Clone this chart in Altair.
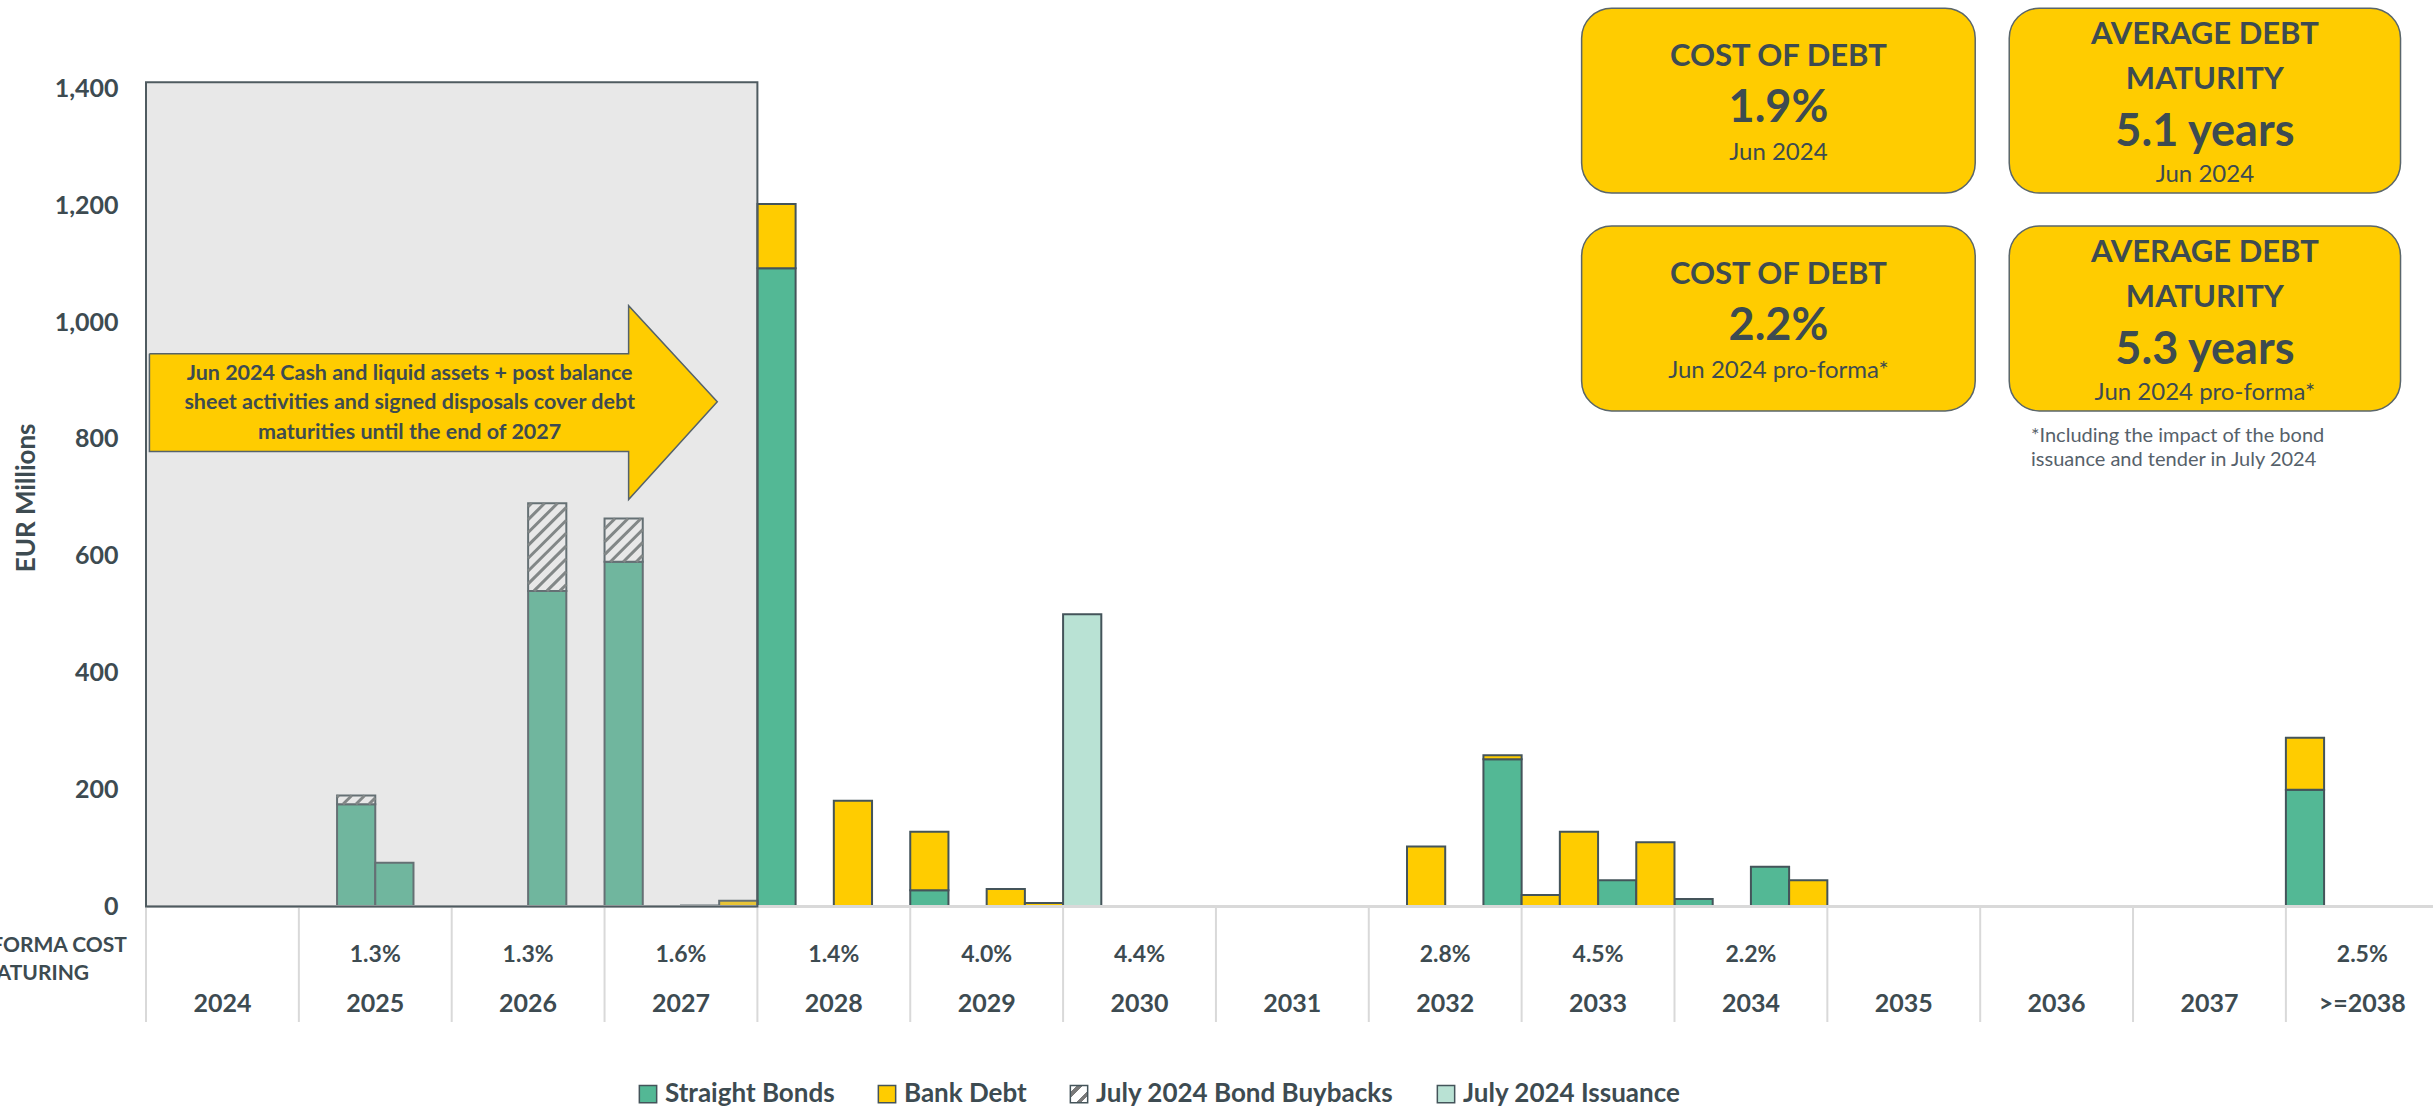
import altair as alt
import pandas as pd

# ---------------- data ----------------
YEARS = ["2024", "2025", "2026", "2027", "2028", "2029", "2030", "2031",
         "2032", "2033", "2034", "2035", "2036", "2037", ">=2038"]
COST = ["", "1.3%", "1.3%", "1.6%", "1.4%", "4.0%", "4.4%", "",
        "2.8%", "4.5%", "2.2%", "", "", "", "2.5%"]

# maturities per quarter slot (slot index = 4 * (year - 2024) + quarter)
BOND_Q = [5, 6, 10, 12, 14, 16, 17, 20, 35, 38, 40, 42, 56]
BOND_V = [175, 75, 540, 590, 2, 1092, 1, 28, 252, 45, 13, 68, 200]
BANK_Q = [15, 16, 18, 20, 22, 23, 33, 35, 36, 37, 39, 43, 56]
BANK_V = [10, 110, 181, 100, 30, 6, 103, 7, 20, 128, 110, 45, 89]
BUYBACK_Q = [5, 10, 12]
BUYBACK_V = [15, 150, 74]
ISSUE_Q = [24]
ISSUE_V = [500]

SERIES = ["Straight Bonds", "Bank Debt", "July 2024 Bond Buybacks", "July 2024 Issuance"]

COVER_TEXT = ["Jun 2024 Cash and liquid assets + post balance",
              "sheet activities and signed disposals cover debt",
              "maturities until the end of 2027"]
COVER_UNTIL = "2027"

KPI_TITLE = [["COST OF DEBT"], ["AVERAGE DEBT", "MATURITY"],
             ["COST OF DEBT"], ["AVERAGE DEBT", "MATURITY"]]
KPI_VALUE = ["1.9%", "5.1 years", "2.2%", "5.3 years"]
KPI_DATE = ["Jun 2024", "Jun 2024", "Jun 2024 pro-forma*", "Jun 2024 pro-forma*"]
FOOTNOTE = ["*Including the impact of the bond", "issuance and tender in July 2024"]
ROW_LABEL = ["PRO-FORMA COST", "OF DEBT MATURING"]
Y_TITLE = "EUR Millions"

# ---------------- style / layout ----------------
FONT = "Lato"
TXT = "#3d4b51"
HATCH_COLOR = "#6e7575"
STRIPES = ("{gradient: 'linear', x1: 0, y1: 0, x2: 1, y2: 1, stops: ["
           "{offset: 0, color: '#ffffff'}, {offset: 0.2, color: '#ffffff'}, "
           "{offset: 0.2, color: '#7a7a7a'}, {offset: 0.36, color: '#7a7a7a'}, "
           "{offset: 0.36, color: '#ffffff'}, {offset: 0.64, color: '#ffffff'}, "
           "{offset: 0.64, color: '#7a7a7a'}, {offset: 0.8, color: '#7a7a7a'}, "
           "{offset: 0.8, color: '#ffffff'}, {offset: 1, color: '#ffffff'}]}")
COLORS = ["#53b895", "#ffcc00", "#ffffff", "#b9e2d4"]
BAR_STROKE = "#44545a"
GRID_GRAY = "#d9d9d9"
YELLOW = "#ffcc00"

W, H = 2287, 818.4
XMAX = 59.85
YMAX = 1400
XS = alt.Scale(domain=[0, XMAX], nice=False, zero=False)
YS = alt.Scale(domain=[0, YMAX], nice=False, zero=False)

# annotation layout (in axis units: quarters / EUR millions)
SHADE_TOP = 1410
ARROW_X = [0.09, 12.63, 12.63, 14.95, 12.63, 12.63, 0.09, 0.09]
ARROW_Y = [945.8, 945.8, 1028, 863.5, 696.4, 778.6, 778.6, 945.8]
COVER_TX = 6.9
COVER_TY = [911.1, 860.8, 810.2]
BOX_X = [(37.57, 47.87), (48.76, 59.0), (37.57, 47.87), (48.76, 59.0)]
BOX_Y = [(1220.7, 1536.7), (1220.7, 1536.7), (848.0, 1164.3), (848.0, 1164.3)]
BOX_TITLE_Y = [[1453.4], [1490.5, 1413.5], [1081.0], [1118.1, 1041.1]]
BOX_VALUE_Y = [1366.2, 1324.6, 993.7, 952.2]
BOX_DATE_Y = [1289.2, 1251.0, 916.7, 878.7]
FOOT_X = 49.33
FOOT_Y = [805.1, 764.0]
ROW_X = [-0.5, -1.49]
ROW_Y = [-67.0, -115.0]
PCT_Y = -82.8
YEAR_Y = -166.6
SEP_BOTTOM = -197.4
HATCH_RISE = 65.0
HATCH_STEP = 22.0

Y_AXIS = alt.Axis(
    orient="left", values=list(range(0, 1401, 200)), format=",d", grid=False,
    domain=False, ticks=False, labelFont=FONT, labelFontSize=25,
    labelFontWeight="bold", labelColor=TXT, labelPadding=28, title=Y_TITLE,
    titleFont=FONT, titleFontSize=26, titleFontWeight="bold", titleColor=TXT,
    titleAngle=270, titleX=-120, titleY=H / 2, titleAlign="center",
    titleBaseline="middle")


def X(field, **kw):
    return alt.X(field, type="quantitative", scale=XS, axis=None, **kw)


def Y(field, **kw):
    # every layer carries the same axis definition so the shared axis merges cleanly
    return alt.Y(field, type="quantitative", scale=YS, axis=Y_AXIS, title=Y_TITLE, **kw)


def YD(value):
    return alt.Y(datum=value, type="quantitative", scale=YS, axis=Y_AXIS, title=Y_TITLE)


# ---------------- tables ----------------
rows = []
for k, (qs, vs) in enumerate([(BOND_Q, BOND_V), (BANK_Q, BANK_V),
                              (BUYBACK_Q, BUYBACK_V), (ISSUE_Q, ISSUE_V)]):
    for q, v in zip(qs, vs):
        rows.append({"q": q, "series": SERIES[k], "value": v, "ord": k})
bars_df = pd.DataFrame(rows)

bond_at = dict(zip(BOND_Q, BOND_V))
hatch = []
for q, v in zip(BUYBACK_Q, BUYBACK_V):
    b = bond_at.get(q, 0)
    t = b + v
    c = b - HATCH_RISE + HATCH_STEP * 0.5
    while c < t:
        xl = max(0.0, (b - c) / HATCH_RISE)
        xh = min(1.0, (t - c) / HATCH_RISE)
        if xh > xl:
            hatch.append({"x": q + xl, "y": c + HATCH_RISE * xl,
                          "x2": q + xh, "y2": c + HATCH_RISE * xh})
        c += HATCH_STEP
hatch_df = pd.DataFrame(hatch)

cols_df = pd.DataFrame({"year": YEARS, "cost": COST,
                        "xc": [4 * i + 2 for i in range(len(YEARS))]})
sep_df = pd.DataFrame({"x": [4 * i for i in range(len(YEARS))]})
sep_df["y"] = 0
sep_df["y2"] = SEP_BOTTOM
base_df = pd.DataFrame({"x": [0], "x2": [XMAX], "y": [0]})
shade_df = pd.DataFrame({"x": [0], "x2": [4 * (YEARS.index(COVER_UNTIL) + 1)],
                         "y": [0], "y2": [SHADE_TOP]})
arrow_df = pd.DataFrame({"x": ARROW_X, "y": ARROW_Y, "o": list(range(len(ARROW_X)))})
cover_df = pd.DataFrame({"t": COVER_TEXT, "x": COVER_TX, "y": COVER_TY})
box_df = pd.DataFrame({"x": [b[0] for b in BOX_X], "x2": [b[1] for b in BOX_X],
                       "y": [b[0] for b in BOX_Y], "y2": [b[1] for b in BOX_Y]})
ktitle = []
for i, lines in enumerate(KPI_TITLE):
    for line, yy in zip(lines, BOX_TITLE_Y[i]):
        ktitle.append({"t": line, "x": (BOX_X[i][0] + BOX_X[i][1]) / 2, "y": yy})
ktitle_df = pd.DataFrame(ktitle)
kval_df = pd.DataFrame({"t": KPI_VALUE, "x": [(b[0] + b[1]) / 2 for b in BOX_X], "y": BOX_VALUE_Y})
kdate_df = pd.DataFrame({"t": KPI_DATE, "x": [(b[0] + b[1]) / 2 for b in BOX_X], "y": BOX_DATE_Y})
foot_df = pd.DataFrame({"t": FOOTNOTE, "x": FOOT_X, "y": FOOT_Y})
row_df = pd.DataFrame({"t": ROW_LABEL, "x": ROW_X, "y": ROW_Y})


# ---------------- layers ----------------
def build(striped_legend):
    legend = alt.Legend(
        title=None, orient="none", legendX=489, legendY=993,
        direction="horizontal", symbolType="square", symbolSize=300,
        symbolStrokeColor=BAR_STROKE, symbolStrokeWidth=1.5,
        labelFont=FONT, labelFontSize=26, labelFontWeight="bold",
        labelColor=TXT, labelOffset=4, columnPadding=39,
        labelLimit=0, padding=0)
    if striped_legend:
        rng = [COLORS[0], COLORS[1], {"expr": STRIPES}, COLORS[3]]
        fill = alt.condition(
            alt.datum.series == SERIES[2], alt.value(COLORS[2]),
            alt.Fill("series:N", scale=alt.Scale(domain=SERIES, range=rng), legend=legend))
    else:
        fill = alt.Fill("series:N", scale=alt.Scale(domain=SERIES, range=COLORS), legend=legend)

    seps = alt.Chart(sep_df).mark_rule(stroke=GRID_GRAY, strokeWidth=2).encode(
        x=X("x"), y=Y("y"), y2="y2")

    bars = alt.Chart(bars_df).transform_stack(
        stack="value", groupby=["q"], as_=["v0", "v1"],
        sort=[alt.SortField("ord", order="ascending")]
    ).transform_calculate(qe="datum.q + 1").mark_bar(
        stroke=BAR_STROKE, strokeWidth=2
    ).encode(x=X("q"), x2="qe:Q", y=Y("v0"), y2="v1:Q", fill=fill)

    hatch_l = alt.Chart(hatch_df).mark_rule(stroke=HATCH_COLOR, strokeWidth=3).encode(
        x=X("x"), y=Y("y"), x2="x2", y2="y2")

    baseline = alt.Chart(base_df).mark_rule(stroke=GRID_GRAY, strokeWidth=3).encode(
        x=X("x"), x2="x2", y=Y("y"))

    shade = alt.Chart(shade_df).mark_rect(
        fill="#b4b4b4", fillOpacity=0.3, stroke="#4f5b60", strokeWidth=2
    ).encode(x=X("x"), x2="x2", y=Y("y"), y2="y2")

    arrow = alt.Chart(arrow_df).mark_line(
        fill=YELLOW, stroke="#55626a", strokeWidth=1.5
    ).encode(x=X("x"), y=Y("y"), order="o:Q")

    cover = alt.Chart(cover_df).mark_text(
        font=FONT, fontSize=21.5, fontWeight="bold", color=TXT, align="center", baseline="middle"
    ).encode(x=X("x"), y=Y("y"), text="t:N")

    boxes = alt.Chart(box_df).mark_rect(
        fill=YELLOW, stroke="#5a666b", strokeWidth=1.5, cornerRadius=30
    ).encode(x=X("x"), x2="x2", y=Y("y"), y2="y2")

    ktitle_l = alt.Chart(ktitle_df).mark_text(
        font=FONT, fontSize=31, fontWeight="bold", color=TXT, align="center", baseline="middle"
    ).encode(x=X("x"), y=Y("y"), text="t:N")
    kval_l = alt.Chart(kval_df).mark_text(
        font=FONT, fontSize=45, fontWeight="bold", color=TXT, align="center", baseline="middle"
    ).encode(x=X("x"), y=Y("y"), text="t:N")
    kdate_l = alt.Chart(kdate_df).mark_text(
        font=FONT, fontSize=24, color=TXT, align="center", baseline="middle"
    ).encode(x=X("x"), y=Y("y"), text="t:N")
    foot_l = alt.Chart(foot_df).mark_text(
        font=FONT, fontSize=20, color="#56616a", align="left", baseline="middle"
    ).encode(x=X("x"), y=Y("y"), text="t:N")

    pct_l = alt.Chart(cols_df).mark_text(
        font=FONT, fontSize=23, fontWeight="bold", color=TXT, align="center", baseline="middle"
    ).encode(x=X("xc"), y=YD(PCT_Y), text="cost:N")
    year_l = alt.Chart(cols_df).mark_text(
        font=FONT, fontSize=25, fontWeight="bold", color=TXT, align="center", baseline="middle"
    ).encode(x=X("xc"), y=YD(YEAR_Y), text="year:N")
    row_l = alt.Chart(row_df).mark_text(
        font=FONT, fontSize=21, fontWeight="bold", color=TXT, align="right", baseline="middle"
    ).encode(x=X("x"), y=Y("y"), text="t:N")

    return alt.layer(
        seps, bars, hatch_l, baseline, shade, arrow, cover,
        boxes, ktitle_l, kval_l, kdate_l, foot_l, pct_l, year_l, row_l
    ).properties(
        width=W, height=H,
        padding={"left": 146, "top": 88.2, "right": 0, "bottom": 1110 - 88.2 - H},
        autosize=alt.AutoSizeParams(type="none"),
        background="white",
    ).configure_view(stroke=None)


try:
    chart = build(True)
    chart.to_dict()
except Exception:
    chart = build(False)

chart.save("out.html", embed_options={"renderer": "svg", "actions": False})
